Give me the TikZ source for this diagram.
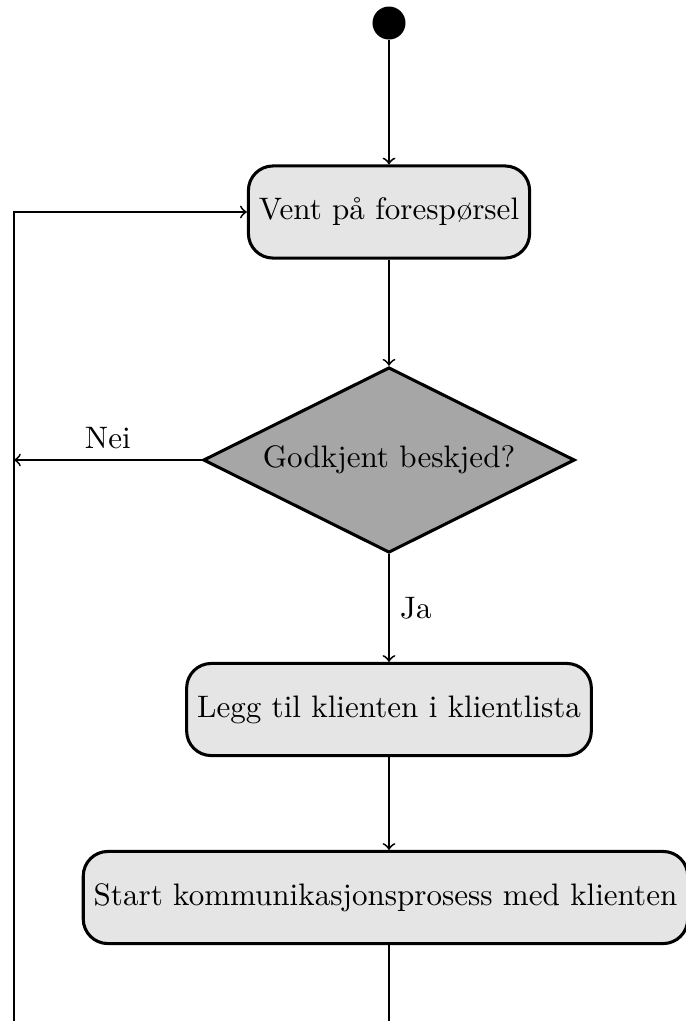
\documentclass[tikz,border=0pt]{standalone}
\usepackage{fontspec}
\usetikzlibrary{shapes.geometric}

\newcommand{\labelfont}{\fontsize{10.12pt}{12.2pt}\selectfont}

\tikzset{
  stepbox/.style={rectangle, rounded corners=8pt, draw, line width=1pt,
    fill=black!10, minimum height=30pt, inner xsep=3.4pt, font=\labelfont},
  decision/.style={diamond, aspect=2, draw, line width=1pt, fill=black!35,
    minimum width=121pt, minimum height=60.4pt, inner sep=0pt, font=\labelfont},
  startdot/.style={circle, fill=black, minimum size=10.75pt, inner sep=0pt},
  flow/.style={->, line width=0.6pt},
  flowlabel/.style={font=\labelfont},
}

\begin{document}
\begin{tikzpicture}[x=0.3257pt, y=-0.3257pt]
  \useasboundingbox (0,0) rectangle (686,1021);
  \clip (0,0) rectangle (686,1021);

  % activity nodes
  \node[startdot] (start) at (389,23) {};
  \node[stepbox] (wait) at (389,212) {Vent på forespørsel};
  \node[decision] (check) at (389,460) {Godkjent beskjed?};
  \node[stepbox] (add) at (389,709.5) {Legg til klienten i klientlista};
  \node[stepbox] (comm) at (385.5,897.5) {Start kommunikasjonsprosess med klienten};

  % loop rail on the left
  \coordinate (railbottom) at (14,1060);

  % connectors
  \draw[flow] (start) -- (wait);
  \draw[flow] (wait) -- (check);
  \draw[flow] (check.south) -- (add.north) node[midway, right, flowlabel] {Ja};
  \draw[flow] (add.south) -- (add.south |- comm.north);
  \draw[flow] (check.west) -- (check.west -| railbottom) node[midway, above, flowlabel] {Nei};
  \draw[flow] (add.south |- comm.south) |- (railbottom) |- (wait.west);
\end{tikzpicture}
\end{document}
